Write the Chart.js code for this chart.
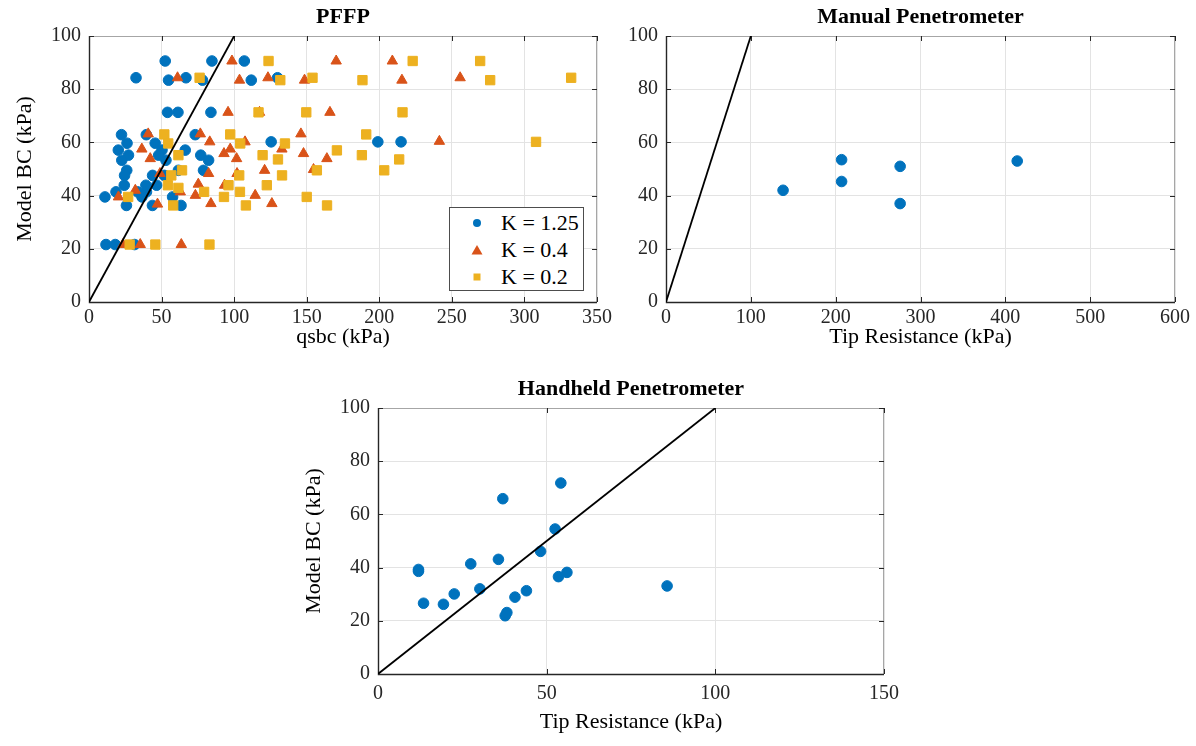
<!DOCTYPE html>
<html>
<head>
<meta charset="utf-8">
<title>Model BC vs penetrometer data</title>
<script src="https://cdn.jsdelivr.net/npm/chart.js@4.4.1/dist/chart.umd.min.js"></script>
<style>
  body { margin: 0; background: #fff; }
  #page { position: relative; width: 1196px; height: 746px; overflow: hidden; }
  .plot { position: absolute; }
  .legend {
    position: absolute; left: 449px; top: 207px; width: 135px; height: 84px;
    border: 1px solid #4d4d4d; background: #fff; box-sizing: border-box;
    font-family: 'Liberation Serif', 'Times New Roman', serif; font-size: 22px; color: #000;
  }
  .legend .row { position: absolute; left: 0; height: 26px; line-height: 26px; white-space: nowrap; }
  .legend svg { position: absolute; left: 20px; top: 6px; }
  .legend span { position: absolute; left: 51px; top: 0; }
</style>
</head>
<body>
<div id="page">
  <canvas id="chartPffp" class="plot" width="620" height="364" style="left:0;top:0"></canvas>
  <canvas id="chartManual" class="plot" width="596" height="364" style="left:600px;top:0"></canvas>
  <canvas id="chartHandheld" class="plot" width="620" height="374" style="left:290px;top:372px"></canvas>
  <div id="legendPffp" class="legend">
    <div class="row" style="top:2px"><svg width="14" height="14"><circle cx="7" cy="7" r="4" fill="#0072BD"/></svg><span>K = 1.25</span></div>
    <div class="row" style="top:29px"><svg width="14" height="14"><polygon points="7,2 12.5,11.5 1.5,11.5" fill="#D95319"/></svg><span>K = 0.4</span></div>
    <div class="row" style="top:56px"><svg width="14" height="14"><rect x="3.5" y="3.5" width="7" height="7" fill="#EDB120"/></svg><span>K = 0.2</span></div>
  </div>
</div>
<script>
// --- DATA ---
// PFFP: model bearing capacity against qsbc for three K values
const pffpK125X = [52.5, 84.7, 107, 32.4, 66.8, 129.9, 54.8, 78.2, 111.8, 54.1, 61.3, 84, 22.4, 39.5, 73.2,
  26.2, 45.6, 125.5, 199, 215, 20.2, 50.3, 66.3, 27.2, 48, 77, 22.6, 53, 82.4, 26, 61.6, 78.9,
  24.5, 43.8, 51.9, 24.3, 39.2, 46.6, 18.6, 33.5, 39.6, 11, 36.5, 57.6, 25.8, 43.7, 63.4, 11.7, 18.1, 31.4];
const pffpK125Y = [90.6, 90.6, 90.6, 84.3, 84.3, 84.3, 83.4, 83.4, 83.4, 71.3, 71.3, 71.3, 62.9, 62.9, 62.9,
  59.7, 59.7, 60.2, 60.2, 60.2, 57.1, 57.1, 57.1, 55.2, 55.2, 55.2, 53.3, 53.3, 53.3, 49.5, 49.5, 49.5,
  47.6, 47.6, 47.6, 43.9, 43.9, 43.9, 41.4, 41.4, 41.4, 39.5, 39.5, 39.5, 36.3, 36.3, 36.3, 21.6, 21.6, 21.6];

const pffpK04X = [98.5, 170.3, 209, 61, 123.3, 255.7, 103.7, 148.5, 215.6, 95.8, 117.5, 166, 40.8, 76.7, 146,
  83.2, 107.5, 241.4, 36.4, 97.3, 132.9, 93, 147.8, 42.2, 101.7, 163.9, 121, 154.7, 48.9, 82.4, 102,
  75.3, 93.4, 62.9, 31.9, 73.3, 114.5, 20.3, 47.2, 84, 126, 23.4, 35.3, 63.6];
const pffpK04Y = [90.6, 90.6, 90.6, 84.3, 84.3, 84.3, 83.4, 83.4, 83.4, 71.3, 71.3, 71.3, 63.2, 63.2, 63.2,
  60.2, 60.2, 60.4, 57.5, 57.5, 57.5, 55.8, 55.8, 53.9, 53.9, 53.9, 49.5, 49.8, 48.3, 48.3, 48.3,
  44.3, 43.9, 41.4, 42, 40.1, 40.1, 39.5, 36.8, 37, 37, 21.6, 21.6, 21.6];

const pffpK02X = [123.7, 223, 269.5, 76.2, 154, 332.2, 131.8, 188.4, 276.4, 116.8, 149.7, 216, 51.9, 97.3, 191,
  54.6, 104.2, 135, 308, 170.8, 61.6, 119.6, 188, 130.2, 213.7, 64.1, 157, 203.4, 56.7, 103.5, 133,
  54.4, 96.1, 122.5, 61.6, 79.3, 104, 27, 93, 150, 58, 108.1, 164, 28, 45.7, 83];
const pffpK02Y = [90.6, 90.6, 90.6, 84.3, 84.3, 84.3, 83.4, 83.4, 83.4, 71.3, 71.3, 71.3, 63, 63, 63,
  59.6, 59.6, 59.6, 60.2, 57, 55.2, 55.2, 55.2, 53.6, 53.6, 49.5, 49.5, 49.5, 47.6, 47.6, 47.6,
  43.9, 43.9, 43.9, 42.9, 41.4, 41.4, 39.5, 39.5, 39.5, 36.3, 36.3, 36.3, 21.6, 21.6, 21.6];

// Manual penetrometer
const manualTipX = [138, 207, 207, 276, 276, 414];
const manualBcY = [42, 53.5, 45.3, 51, 37, 53];

// Handheld penetrometer
const handheldTipX = [12, 12, 13.5, 19.4, 22.6, 27.5, 30.2, 35.7, 37, 37.7, 38.2, 40.6, 44, 48.2, 52.5, 53.5, 54.2, 56, 85.7];
const handheldBcY = [39.3, 38.6, 26.6, 26.2, 30.1, 41.4, 32, 43.1, 65.9, 21.9, 23.1, 28.9, 31.3, 46.1, 54.5, 36.6, 71.8, 38.2, 33.1];

// 1:1 reference line and axis limits [min, max, step]
const oneToOneX = [0, 100];
const oneToOneY = [0, 100];
const bcAxis = [0, 100, 20];
const pffpAxis = [0, 350, 50];
const manualAxis = [0, 600, 100];
const handheldAxis = [0, 150, 50];

const BLUE = "#0072BD", ORANGE = "#D95319", YELLOW = "#EDB120";
const SERIF = "'Liberation Serif', 'Times New Roman', serif";

Chart.defaults.font.family = SERIF;
Chart.defaults.color = "#262626";

const toPoints = (xs, ys) => xs.map((x, i) => ({ x: x, y: ys[i] }));

// box round the plot area with inward ticks on all four sides
const boxPlugin = {
  id: "matlabBox",
  beforeDatasetsDraw(chart) {
    const { ctx, chartArea: a, scales: { x, y } } = chart;
    ctx.save();
    ctx.lineWidth = 1;
    ctx.strokeStyle = "#a6a6a6";
    ctx.beginPath();
    ctx.moveTo(a.left, a.top + 0.5); ctx.lineTo(a.right, a.top + 0.5);
    ctx.moveTo(a.right - 0.5, a.top); ctx.lineTo(a.right - 0.5, a.bottom);
    ctx.stroke();

    ctx.strokeStyle = "#262626";
    ctx.beginPath();
    x.ticks.forEach(t => {
      const px = Math.round(x.getPixelForValue(t.value)) + 0.5;
      ctx.moveTo(px, a.bottom); ctx.lineTo(px, a.bottom - 5);
      ctx.moveTo(px, a.top); ctx.lineTo(px, a.top + 5);
    });
    y.ticks.forEach(t => {
      const py = Math.round(y.getPixelForValue(t.value)) + 0.5;
      ctx.moveTo(a.left, py); ctx.lineTo(a.left + 5, py);
      ctx.moveTo(a.right, py); ctx.lineTo(a.right - 5, py);
    });
    ctx.stroke();

    ctx.lineWidth = 1.4;
    ctx.beginPath();
    ctx.moveTo(a.left + 0.5, a.top); ctx.lineTo(a.left + 0.5, a.bottom + 0.5); ctx.lineTo(a.right, a.bottom + 0.5);
    ctx.stroke();
    ctx.restore();
  }
};

// bold title centred over the plot area rather than the whole canvas
const areaTitlePlugin = {
  id: "areaTitle",
  afterDraw(chart, args, opts) {
    const { ctx, chartArea: a } = chart;
    ctx.save();
    ctx.font = "bold 22px " + SERIF;
    ctx.fillStyle = "#000";
    ctx.textAlign = "center";
    ctx.textBaseline = "middle";
    ctx.fillText(opts.text, (a.left + a.right) / 2, a.top - 19);
    ctx.restore();
  }
};

function scatterSet(label, xs, ys, color, style, radius, order) {
  return {
    type: "scatter", label: label, data: toPoints(xs, ys), order: order,
    pointStyle: style, pointRadius: radius, pointHoverRadius: radius,
    backgroundColor: color, borderColor: color, borderWidth: 1
  };
}

function lineSet() {
  return {
    type: "line", label: "1:1", data: toPoints(oneToOneX, oneToOneY), order: 0,
    borderColor: "#000", borderWidth: 1.8, pointRadius: 0, showLine: true, fill: false
  };
}

function makeChart(canvasId, title, datasets, xAxis, xTitle, opts) {
  const ctx = document.getElementById(canvasId).getContext("2d");
  return new Chart(ctx, {
    type: "scatter",
    data: { datasets: datasets },
    plugins: [boxPlugin, areaTitlePlugin],
    options: {
      responsive: false, animation: false, events: [],
      layout: { padding: { left: 0, right: opts.padRight, top: 36, bottom: 0 } },
      plugins: {
        legend: { display: false },
        tooltip: { enabled: false },
        title: { display: false },
        areaTitle: { text: title }
      },
      scales: {
        x: {
          type: "linear", min: xAxis[0], max: xAxis[1],
          afterFit: s => { s.height = opts.xHeight; },
          ticks: { stepSize: xAxis[2], padding: opts.xTickPad, font: { size: 20 }, color: "#262626" },
          grid: { color: "#e3e3e3", drawTicks: false },
          border: { display: false },
          title: { display: true, text: xTitle, color: "#000", font: { size: 22 }, padding: { top: 0, bottom: opts.xTitlePad } }
        },
        y: {
          type: "linear", min: bcAxis[0], max: bcAxis[1],
          afterFit: s => { s.width = opts.yWidth; },
          ticks: { stepSize: bcAxis[2], padding: 8, font: { size: 20 }, color: "#262626" },
          grid: { color: "#e3e3e3", drawTicks: false },
          border: { display: false },
          title: { display: opts.yTitle !== "", text: opts.yTitle, color: "#000", font: { size: 22 }, padding: { top: opts.yTitlePad, bottom: 0 } }
        }
      }
    }
  });
}

document.addEventListener("DOMContentLoaded", () => {
  // --- PFFP ---
  makeChart("chartPffp", "PFFP", [
    lineSet(),
    scatterSet("K = 0.2", pffpK02X, pffpK02Y, YELLOW, "rect", 6.6, 1),
    scatterSet("K = 0.4", pffpK04X, pffpK04Y, ORANGE, "triangle", 6, 2),
    scatterSet("K = 1.25", pffpK125X, pffpK125Y, BLUE, "circle", 5.3, 3)
  ], pffpAxis, "qsbc (kPa)", { padRight: 23, xHeight: 62, yWidth: 89, xTickPad: 4, xTitlePad: 14, yTitlePad: 12, yTitle: "Model BC (kPa)" });

  // --- MANUAL PENETROMETER ---
  makeChart("chartManual", "Manual Penetrometer", [
    lineSet(),
    scatterSet("Manual", manualTipX, manualBcY, BLUE, "circle", 5.3, 1)
  ], manualAxis, "Tip Resistance (kPa)", { padRight: 21, xHeight: 62, yWidth: 66, xTickPad: 4, xTitlePad: 14, yTitlePad: 0, yTitle: "" });

  // --- HANDHELD PENETROMETER ---
  makeChart("chartHandheld", "Handheld Penetrometer", [
    lineSet(),
    scatterSet("Handheld", handheldTipX, handheldBcY, BLUE, "circle", 5.3, 1)
  ], handheldAxis, "Tip Resistance (kPa)", { padRight: 26, xHeight: 72, yWidth: 88, xTickPad: 8, xTitlePad: 11, yTitlePad: 11, yTitle: "Model BC (kPa)" });
});
</script>
</body>
</html>
